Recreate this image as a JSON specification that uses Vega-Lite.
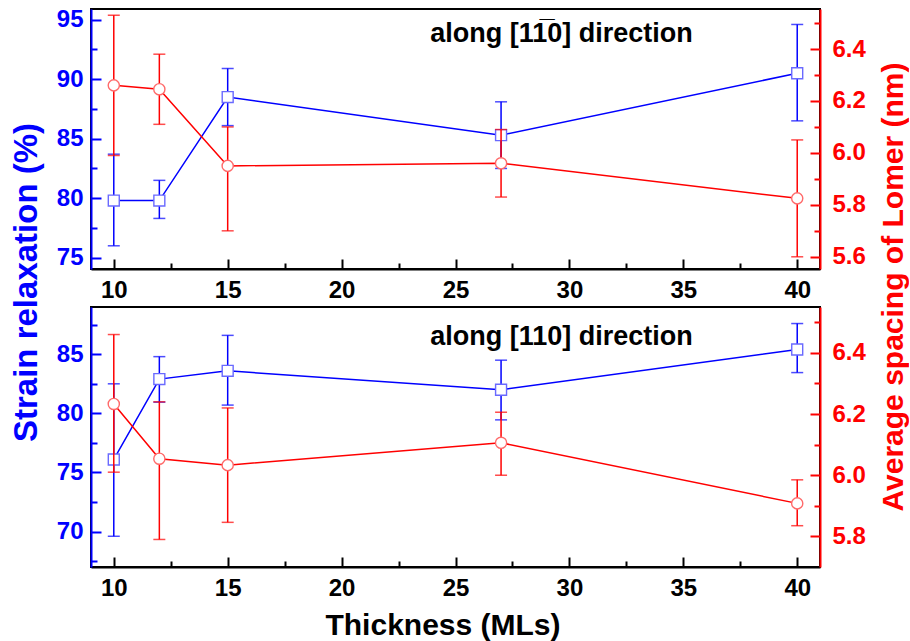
{
  "$schema": "https://vega.github.io/schema/vega-lite/v6.json",
  "autosize": {"type": "pad"},
  "padding": {"left": 8, "top": 6, "right": 0, "bottom": 0},
  "background": "white",
  "bounds": "flush",
  "spacing": 38,
  "datasets": {
    "ts": [{"t":10,"val":79.8,"lo":76.0,"hi":83.7},{"t":12,"val":79.8,"lo":78.3,"hi":81.5},{"t":15,"val":88.5,"lo":86.1,"hi":90.9},{"t":27,"val":85.3,"lo":82.5,"hi":88.1},{"t":40,"val":90.5,"lo":86.5,"hi":94.6}],
    "tl": [{"t":10,"val":6.26,"lo":5.99,"hi":6.53},{"t":12,"val":6.245,"lo":6.11,"hi":6.38},{"t":15,"val":5.95,"lo":5.70,"hi":6.10},{"t":27,"val":5.96,"lo":5.83,"hi":6.09},{"t":40,"val":5.825,"lo":5.60,"hi":6.05}],
    "bs": [{"t":10,"val":76.1,"lo":69.6,"hi":82.5},{"t":12,"val":82.9,"lo":80.95,"hi":84.8},{"t":15,"val":83.6,"lo":80.7,"hi":86.6},{"t":27,"val":82.0,"lo":79.45,"hi":84.5},{"t":40,"val":85.4,"lo":83.45,"hi":87.6}],
    "bl": [{"t":10,"val":6.233,"lo":6.01,"hi":6.46},{"t":12,"val":6.054,"lo":5.79,"hi":6.24},{"t":15,"val":6.033,"lo":5.846,"hi":6.22},{"t":27,"val":6.106,"lo":6.0,"hi":6.206},{"t":40,"val":5.908,"lo":5.835,"hi":5.985}]
  },
  "config": {
    "font": "Liberation Sans",
    "view": {"stroke": "black", "strokeWidth": 2},
    "title": {"font": "Liberation Sans", "fontSize": 27, "fontWeight": "bold", "color": "black", "orient": "top", "anchor": "middle", "baseline": "middle", "dx": 106},
    "axis": {"labelFont": "Liberation Sans", "labelFontWeight": "bold", "labelFontSize": 24, "titleFont": "Liberation Sans", "titleFontWeight": "bold", "grid": false, "domainWidth": 2, "tickWidth": 2, "labelOverlap": false, "labelFlush": false, "labelBound": false}
  },
  "vconcat": [
    {
      "width": 729, "height": 260,
      "title": {"text": "along [11\u03050] direction", "offset": -40},
      "encoding": {"x": {"field": "t", "type": "quantitative", "scale": {"domain": [9, 41], "nice": false},
        "axis": {"orient": "bottom", "values": [10,12.5,15,17.5,20,22.5,25,27.5,30,32.5,35,37.5,40], "labelExpr": "datum.value % 5 === 0 ? datum.label : ''", "tickSize": {"condition": {"test": "datum.value % 5 === 0", "value": -10}, "value": -6}, "labelPadding": 19, "title": null, "domainColor": "black", "tickColor": "black", "labelColor": "black"}}},
      "layer": [
        {"data": {"name": "ts"}, "layer": [
          {"mark": {"type": "errorbar", "color": "#0000ff", "thickness": 1.5, "ticks": {"size": 12, "thickness": 1.5}},
           "encoding": {"y": {"field": "lo", "type": "quantitative", "scale": {"domain": [74.05, 95.9], "nice": false},
             "axis": {"orient": "left", "values": [75,77.5,80,82.5,85,87.5,90,92.5,95], "labelExpr": "datum.value % 5 === 0 ? datum.label : ''", "tickSize": {"condition": {"test": "datum.value % 5 === 0", "value": -10}, "value": -6}, "labelPadding": 18, "domainColor": "#0000ff", "tickColor": "#0000ff", "labelColor": "#0000ff", "title": "Strain relaxation (%)", "titleColor": "#0000ff", "titleFontSize": 33, "titleAngle": 270, "titleX": -55, "titleY": 273, "titleAlign": "center", "titleBaseline": "alphabetic"}}, "y2": {"field": "hi"}}},
          {"mark": {"type": "line", "color": "#0000ff", "strokeWidth": 1.5},
           "encoding": {"y": {"field": "val", "type": "quantitative", "scale": {"domain": [74.05, 95.9], "nice": false},
             "axis": {"orient": "left", "values": [75,77.5,80,82.5,85,87.5,90,92.5,95], "labelExpr": "datum.value % 5 === 0 ? datum.label : ''", "tickSize": {"condition": {"test": "datum.value % 5 === 0", "value": -10}, "value": -6}, "labelPadding": 18, "domainColor": "#0000ff", "tickColor": "#0000ff", "labelColor": "#0000ff", "title": "Strain relaxation (%)", "titleColor": "#0000ff", "titleFontSize": 33, "titleAngle": 270, "titleX": -55, "titleY": 273, "titleAlign": "center", "titleBaseline": "alphabetic"}}}},
          {"mark": {"type": "point", "shape": "square", "size": 120, "filled": true, "fill": "white", "stroke": "#6a6aff", "strokeWidth": 1.4, "opacity": 1},
           "encoding": {"y": {"field": "val", "type": "quantitative", "scale": {"domain": [74.05, 95.9], "nice": false},
             "axis": {"orient": "left", "values": [75,77.5,80,82.5,85,87.5,90,92.5,95], "labelExpr": "datum.value % 5 === 0 ? datum.label : ''", "tickSize": {"condition": {"test": "datum.value % 5 === 0", "value": -10}, "value": -6}, "labelPadding": 18, "domainColor": "#0000ff", "tickColor": "#0000ff", "labelColor": "#0000ff", "title": "Strain relaxation (%)", "titleColor": "#0000ff", "titleFontSize": 33, "titleAngle": 270, "titleX": -55, "titleY": 273, "titleAlign": "center", "titleBaseline": "alphabetic"}}}}
        ]},
        {"data": {"name": "tl"}, "layer": [
          {"mark": {"type": "errorbar", "color": "#ff0000", "thickness": 1.5, "ticks": {"size": 12, "thickness": 1.5}},
           "encoding": {"y": {"field": "lo", "type": "quantitative", "scale": {"domain": [5.553, 6.554], "nice": false},
             "axis": {"orient": "right", "values": [5.6,5.7,5.8,5.9,6.0,6.1,6.2,6.3,6.4,6.5], "labelExpr": "round(datum.value*10) % 2 === 0 ? format(datum.value, '.1f') : ''", "tickSize": {"condition": {"test": "round(datum.value*10) % 2 === 0", "value": -10}, "value": -6}, "labelPadding": 22, "domainColor": "#ff0000", "tickColor": "#ff0000", "labelColor": "#ff0000", "title": "Average spacing of Lomer (nm)", "titleColor": "#ff0000", "titleFontSize": 30, "titleAngle": 270, "titleX": 82, "titleY": 277.5, "titleAlign": "center", "titleBaseline": "alphabetic"}}, "y2": {"field": "hi"}}},
          {"mark": {"type": "line", "color": "#ff0000", "strokeWidth": 1.5},
           "encoding": {"y": {"field": "val", "type": "quantitative", "scale": {"domain": [5.553, 6.554], "nice": false},
             "axis": {"orient": "right", "values": [5.6,5.7,5.8,5.9,6.0,6.1,6.2,6.3,6.4,6.5], "labelExpr": "round(datum.value*10) % 2 === 0 ? format(datum.value, '.1f') : ''", "tickSize": {"condition": {"test": "round(datum.value*10) % 2 === 0", "value": -10}, "value": -6}, "labelPadding": 22, "domainColor": "#ff0000", "tickColor": "#ff0000", "labelColor": "#ff0000", "title": "Average spacing of Lomer (nm)", "titleColor": "#ff0000", "titleFontSize": 30, "titleAngle": 270, "titleX": 82, "titleY": 277.5, "titleAlign": "center", "titleBaseline": "alphabetic"}}}},
          {"mark": {"type": "point", "shape": "circle", "size": 125, "filled": true, "fill": "white", "stroke": "#ff6a6a", "strokeWidth": 1.4, "opacity": 1},
           "encoding": {"y": {"field": "val", "type": "quantitative", "scale": {"domain": [5.553, 6.554], "nice": false},
             "axis": {"orient": "right", "values": [5.6,5.7,5.8,5.9,6.0,6.1,6.2,6.3,6.4,6.5], "labelExpr": "round(datum.value*10) % 2 === 0 ? format(datum.value, '.1f') : ''", "tickSize": {"condition": {"test": "round(datum.value*10) % 2 === 0", "value": -10}, "value": -6}, "labelPadding": 22, "domainColor": "#ff0000", "tickColor": "#ff0000", "labelColor": "#ff0000", "title": "Average spacing of Lomer (nm)", "titleColor": "#ff0000", "titleFontSize": 30, "titleAngle": 270, "titleX": 82, "titleY": 277.5, "titleAlign": "center", "titleBaseline": "alphabetic"}}}}
        ]}
      ],
      "resolve": {"scale": {"y": "independent"}}
    },
    {
      "width": 729, "height": 260,
      "title": {"text": "along [110] direction", "offset": -44},
      "encoding": {"x": {"field": "t", "type": "quantitative", "scale": {"domain": [9, 41], "nice": false},
        "axis": {"orient": "bottom", "values": [10,12.5,15,17.5,20,22.5,25,27.5,30,32.5,35,37.5,40], "labelExpr": "datum.value % 5 === 0 ? datum.label : ''", "tickSize": {"condition": {"test": "datum.value % 5 === 0", "value": -10}, "value": -6}, "labelPadding": 19, "domainColor": "black", "tickColor": "black", "labelColor": "black", "title": "Thickness (MLs)", "titleColor": "black", "titleFontSize": 30, "titleX": 351.5, "titleY": 67, "titleAlign": "center", "titleBaseline": "alphabetic"}}},
      "layer": [
        {"data": {"name": "bs"}, "layer": [
          {"mark": {"type": "errorbar", "color": "#0000ff", "thickness": 1.5, "ticks": {"size": 12, "thickness": 1.5}},
           "encoding": {"y": {"field": "lo", "type": "quantitative", "scale": {"domain": [67, 89], "nice": false},
             "axis": {"orient": "left", "values": [67.5,70,72.5,75,77.5,80,82.5,85,87.5], "labelExpr": "datum.value % 5 === 0 ? datum.label : ''", "tickSize": {"condition": {"test": "datum.value % 5 === 0", "value": -10}, "value": -6}, "labelPadding": 18, "domainColor": "#0000ff", "tickColor": "#0000ff", "labelColor": "#0000ff", "title": null}}, "y2": {"field": "hi"}}},
          {"mark": {"type": "line", "color": "#0000ff", "strokeWidth": 1.5},
           "encoding": {"y": {"field": "val", "type": "quantitative", "scale": {"domain": [67, 89], "nice": false},
             "axis": {"orient": "left", "values": [67.5,70,72.5,75,77.5,80,82.5,85,87.5], "labelExpr": "datum.value % 5 === 0 ? datum.label : ''", "tickSize": {"condition": {"test": "datum.value % 5 === 0", "value": -10}, "value": -6}, "labelPadding": 18, "domainColor": "#0000ff", "tickColor": "#0000ff", "labelColor": "#0000ff", "title": null}}}},
          {"mark": {"type": "point", "shape": "square", "size": 120, "filled": true, "fill": "white", "stroke": "#6a6aff", "strokeWidth": 1.4, "opacity": 1},
           "encoding": {"y": {"field": "val", "type": "quantitative", "scale": {"domain": [67, 89], "nice": false},
             "axis": {"orient": "left", "values": [67.5,70,72.5,75,77.5,80,82.5,85,87.5], "labelExpr": "datum.value % 5 === 0 ? datum.label : ''", "tickSize": {"condition": {"test": "datum.value % 5 === 0", "value": -10}, "value": -6}, "labelPadding": 18, "domainColor": "#0000ff", "tickColor": "#0000ff", "labelColor": "#0000ff", "title": null}}}}
        ]},
        {"data": {"name": "bl"}, "layer": [
          {"mark": {"type": "errorbar", "color": "#ff0000", "thickness": 1.5, "ticks": {"size": 12, "thickness": 1.5}},
           "encoding": {"y": {"field": "lo", "type": "quantitative", "scale": {"domain": [5.7, 6.55], "nice": false},
             "axis": {"orient": "right", "values": [5.8,5.9,6.0,6.1,6.2,6.3,6.4,6.5], "labelExpr": "round(datum.value*10) % 2 === 0 ? format(datum.value, '.1f') : ''", "tickSize": {"condition": {"test": "round(datum.value*10) % 2 === 0", "value": -10}, "value": -6}, "labelPadding": 22, "domainColor": "#ff0000", "tickColor": "#ff0000", "labelColor": "#ff0000", "title": null}}, "y2": {"field": "hi"}}},
          {"mark": {"type": "line", "color": "#ff0000", "strokeWidth": 1.5},
           "encoding": {"y": {"field": "val", "type": "quantitative", "scale": {"domain": [5.7, 6.55], "nice": false},
             "axis": {"orient": "right", "values": [5.8,5.9,6.0,6.1,6.2,6.3,6.4,6.5], "labelExpr": "round(datum.value*10) % 2 === 0 ? format(datum.value, '.1f') : ''", "tickSize": {"condition": {"test": "round(datum.value*10) % 2 === 0", "value": -10}, "value": -6}, "labelPadding": 22, "domainColor": "#ff0000", "tickColor": "#ff0000", "labelColor": "#ff0000", "title": null}}}},
          {"mark": {"type": "point", "shape": "circle", "size": 125, "filled": true, "fill": "white", "stroke": "#ff6a6a", "strokeWidth": 1.4, "opacity": 1},
           "encoding": {"y": {"field": "val", "type": "quantitative", "scale": {"domain": [5.7, 6.55], "nice": false},
             "axis": {"orient": "right", "values": [5.8,5.9,6.0,6.1,6.2,6.3,6.4,6.5], "labelExpr": "round(datum.value*10) % 2 === 0 ? format(datum.value, '.1f') : ''", "tickSize": {"condition": {"test": "round(datum.value*10) % 2 === 0", "value": -10}, "value": -6}, "labelPadding": 22, "domainColor": "#ff0000", "tickColor": "#ff0000", "labelColor": "#ff0000", "title": null}}}}
        ]}
      ],
      "resolve": {"scale": {"y": "independent"}}
    }
  ]
}
